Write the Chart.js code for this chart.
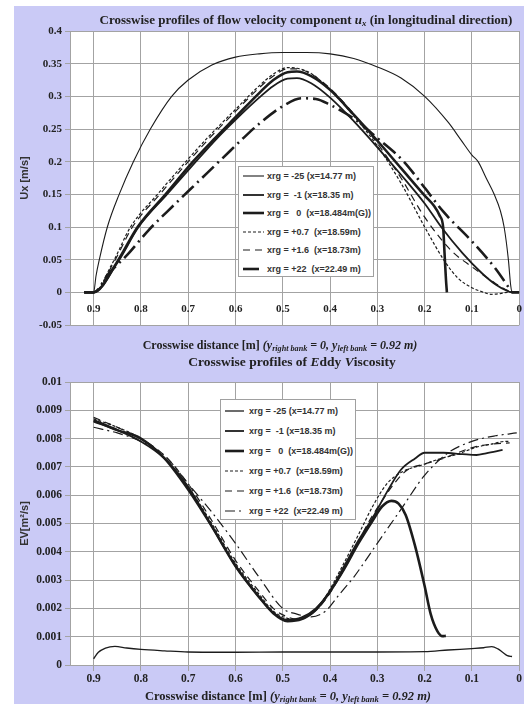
<!DOCTYPE html>
<html>
<head>
<meta charset="utf-8">
<script src="https://cdn.jsdelivr.net/npm/chart.js@4.4.1/dist/chart.umd.min.js"></script>
<style>
  body { margin:0; background:#fff; width:524px; height:704px; position:relative; overflow:hidden; }
  #panel { position:absolute; left:14px; top:6px; right:0; bottom:0; background:#cacaf6; }
  canvas { position:absolute; left:0; }
  .ttl { position:absolute; transform:translateX(-50%); font:bold 11px "Liberation Serif", serif; color:#222; white-space:nowrap; line-height:14px; }
  .ttl sub { font-size:0.68em; vertical-align:-2px; }
  .legend { position:absolute; background:#fff; border:1px solid #a0a0a0; box-sizing:border-box; font:bold 9px "Liberation Sans", Arial, sans-serif; color:#333; }
  .legend .row { position:absolute; white-space:pre; line-height:12px; }
  .legend svg { position:absolute; }
</style>
</head>
<body>
<div id="panel"></div>
<canvas id="uxChart" width="524" height="362" style="top:0"></canvas>
<canvas id="evChart" width="524" height="342" style="top:362px"></canvas>

<div class="ttl" style="left:306px;top:13px;font-size:13px">Crosswise profiles of flow velocity component <i>u</i><sub><i>x</i></sub> (in longitudinal direction)</div>
<div class="ttl" style="left:280px;top:338px;font-size:12px">Crosswise distance [m] <i>(y<sub>right bank</sub> = 0, y<sub>left bank</sub> = 0.92 m)</i></div>
<div class="ttl" style="left:292px;top:355px;font-size:13.5px">Crosswise profiles of <i>E</i>ddy <i>V</i>iscosity</div>
<div class="ttl" style="left:288px;top:689px;font-size:12.5px">Crosswise distance [m] <i>(y<sub>right bank</sub> = 0, y<sub>left bank</sub> = 0.92 m)</i></div>

<div class="legend" id="uxLegend" style="left:238px;top:166px;width:136px;height:111px"></div>
<div class="legend" id="evLegend" style="left:220px;top:399px;width:136px;height:121px"></div>

<script>
// legend labels
const labels = [
  'xrg = -25 (x=14.77 m)',
  'xrg =  -1 (x=18.35 m)',
  'xrg =   0  (x=18.484m(G))',
  'xrg = +0.7  (x=18.59m)',
  'xrg = +1.6  (x=18.73m)',
  'xrg = +22  (x=22.49 m)'
];

// Ux [m/s] versus crosswise distance [m]
const uxM25 = [[0.92,0],[0.9,0],[0.895,0.025],[0.888,0.05],[0.871,0.1],[0.846,0.15],[0.816,0.2],[0.78,0.25],[0.735,0.3],[0.7,0.325],[0.65,0.348],[0.6,0.36],[0.55,0.365],[0.5,0.367],[0.45,0.367],[0.4,0.365],[0.35,0.358],[0.3,0.345],[0.25,0.328],[0.2,0.3],[0.15,0.26],[0.123,0.233],[0.1,0.21],[0.087,0.2],[0.07,0.175],[0.053,0.15],[0.04,0.125],[0.032,0.1],[0.023,0.05],[0.018,0.01],[0.015,0],[0,0]];
const uxM1 = [[0.92,0],[0.9,0],[0.85,0.045],[0.805,0.1],[0.745,0.15],[0.69,0.195],[0.64,0.235],[0.6,0.264],[0.55,0.298],[0.52,0.316],[0.49,0.327],[0.47,0.328],[0.44,0.32],[0.4,0.298],[0.35,0.262],[0.3,0.222],[0.25,0.18],[0.2,0.136],[0.165,0.1],[0.12,0.06],[0.08,0.03],[0.05,0.012],[0.025,0.002],[0.015,0],[0,0]];
const ux0 = [[0.92,0],[0.9,0],[0.85,0.047],[0.807,0.1],[0.748,0.15],[0.69,0.2],[0.646,0.234],[0.6,0.268],[0.55,0.305],[0.52,0.325],[0.49,0.337],[0.47,0.338],[0.44,0.331],[0.4,0.31],[0.35,0.272],[0.3,0.232],[0.25,0.19],[0.2,0.148],[0.18,0.132],[0.168,0.117],[0.161,0.1],[0.158,0.06],[0.155,0.02],[0.153,0]];
const ux07 = [[0.92,0],[0.9,0],[0.86,0.045],[0.822,0.1],[0.765,0.15],[0.705,0.2],[0.66,0.236],[0.6,0.28],[0.55,0.316],[0.52,0.334],[0.49,0.344],[0.47,0.343],[0.44,0.335],[0.4,0.31],[0.35,0.27],[0.3,0.224],[0.25,0.167],[0.2,0.1],[0.159,0.049],[0.13,0.022],[0.1,0.007],[0.075,0],[0.06,-0.003],[0.04,-0.002],[0.025,0],[0,0]];
const ux16 = [[0.92,0],[0.9,0],[0.858,0.045],[0.818,0.1],[0.76,0.15],[0.7,0.2],[0.655,0.236],[0.6,0.277],[0.55,0.313],[0.52,0.331],[0.49,0.342],[0.47,0.342],[0.44,0.334],[0.4,0.312],[0.35,0.273],[0.3,0.228],[0.25,0.175],[0.2,0.115],[0.144,0.064],[0.1,0.039],[0.059,0.018],[0.025,0.003],[0.01,0],[0,0]];
const ux22 = [[0.92,0],[0.9,0],[0.868,0.029],[0.828,0.058],[0.784,0.095],[0.731,0.133],[0.678,0.17],[0.625,0.207],[0.585,0.235],[0.55,0.258],[0.5,0.285],[0.46,0.297],[0.43,0.296],[0.4,0.287],[0.35,0.266],[0.3,0.236],[0.244,0.2],[0.2,0.16],[0.16,0.123],[0.1,0.078],[0.05,0.036],[0.02,0.005],[0.015,0],[0,0]];

// EV [m2/s] versus crosswise distance [m]
const evM25 = [[0.9,0.00022],[0.89,0.00045],[0.875,0.0006],[0.855,0.00066],[0.83,0.0006],[0.8,0.00055],[0.75,0.0005],[0.7,0.00046],[0.6,0.00045],[0.5,0.00046],[0.4,0.00046],[0.3,0.00046],[0.2,0.00047],[0.15,0.00053],[0.1,0.00058],[0.075,0.00061],[0.058,0.00065],[0.045,0.00057],[0.035,0.00045],[0.025,0.00033],[0.015,0.0003]];
const evM1 = [[0.9,0.0086],[0.85,0.0083],[0.8,0.0079],[0.75,0.0073],[0.7,0.0063],[0.65,0.0049],[0.6,0.0035],[0.55,0.0024],[0.52,0.00185],[0.49,0.0016],[0.46,0.00168],[0.43,0.002],[0.4,0.0026],[0.37,0.0035],[0.34,0.0044],[0.31,0.0052],[0.28,0.0061],[0.25,0.0069],[0.22,0.0073],[0.2,0.0075],[0.16,0.0075],[0.12,0.00745],[0.09,0.00742],[0.07,0.00748],[0.035,0.0076]];
const ev0 = [[0.9,0.00865],[0.85,0.0083],[0.8,0.008],[0.75,0.0073],[0.7,0.0062],[0.65,0.0049],[0.6,0.0035],[0.55,0.0024],[0.52,0.00183],[0.49,0.00155],[0.46,0.00162],[0.43,0.00195],[0.4,0.0026],[0.37,0.0034],[0.34,0.0043],[0.31,0.0051],[0.29,0.0056],[0.27,0.0058],[0.255,0.0057],[0.24,0.0053],[0.22,0.0042],[0.2,0.0028],[0.187,0.0018],[0.173,0.0012],[0.162,0.00102],[0.155,0.00103]];
const ev07 = [[0.9,0.0087],[0.85,0.0084],[0.8,0.008],[0.75,0.0073],[0.7,0.0063],[0.65,0.005],[0.6,0.0036],[0.55,0.0025],[0.52,0.0019],[0.49,0.00165],[0.47,0.0016],[0.44,0.0018],[0.41,0.0024],[0.38,0.0033],[0.34,0.0046],[0.31,0.0056],[0.28,0.0064],[0.25,0.0068],[0.2,0.0071],[0.165,0.0073],[0.13,0.00745],[0.09,0.0077],[0.06,0.0078],[0.03,0.0079],[0.02,0.0079]];
const ev16 = [[0.9,0.00875],[0.85,0.0084],[0.8,0.008],[0.75,0.0074],[0.7,0.0064],[0.65,0.0051],[0.6,0.0037],[0.55,0.0026],[0.52,0.002],[0.49,0.0017],[0.47,0.00162],[0.44,0.0018],[0.41,0.0023],[0.38,0.0031],[0.35,0.004],[0.32,0.005],[0.29,0.0058],[0.26,0.0065],[0.236,0.0069],[0.2,0.0071],[0.16,0.0073],[0.13,0.0075],[0.095,0.0077],[0.06,0.0078],[0.02,0.00785]];
const ev22 = [[0.9,0.0084],[0.85,0.0082],[0.8,0.0079],[0.75,0.0074],[0.7,0.0064],[0.65,0.0054],[0.6,0.0043],[0.55,0.0031],[0.5,0.002],[0.47,0.0018],[0.44,0.0017],[0.41,0.0019],[0.38,0.0025],[0.35,0.0031],[0.3,0.0043],[0.25,0.0055],[0.2,0.0067],[0.15,0.0075],[0.1,0.0079],[0.05,0.0081],[0.005,0.0082]];

const LINE = '#1c1c1c';
const GRID = '#a3a3a3';

const plotBg = {
  id: 'plotBg',
  beforeDraw(chart) {
    const { ctx, chartArea: a } = chart;
    ctx.save();
    ctx.fillStyle = '#fff';
    ctx.fillRect(a.left, a.top, a.right - a.left, a.bottom - a.top);
    ctx.restore();
  }
};

const fmt = (v, d) => String(parseFloat(v.toFixed(d)));

function dataset(label, arr, width, dash) {
  return {
    label: label,
    data: arr.map(p => ({ x: p[0], y: p[1] })),
    borderColor: LINE,
    borderWidth: width,
    borderDash: dash,
    pointRadius: 0,
    fill: false,
    cubicInterpolationMode: 'monotone'
  };
}

function options(yMin, yMax, yStep, yDec, yTitle, pad, tickSize, xTickLen) {
  const tickFont = { family: 'Liberation Serif', weight: 'bold', size: tickSize };
  return {
    responsive: false,
    animation: false,
    devicePixelRatio: 1,
    layout: { padding: pad },
    plugins: { legend: { display: false }, tooltip: { enabled: false } },
    scales: {
      x: {
        type: 'linear', reverse: true, min: 0, max: 0.95,
        position: { y: 0 },
        ticks: { stepSize: 0.1, includeBounds: false, font: tickFont, color: '#222', padding: 2, maxRotation: 0,
                 callback: v => fmt(v, 1) },
        grid: { color: GRID, tickLength: xTickLen },
        border: { color: GRID }
      },
      y: {
        type: 'linear', min: yMin, max: yMax,
        ticks: { stepSize: yStep, font: tickFont, color: '#222', padding: 3,
                 callback: v => fmt(v, yDec) },
        grid: { color: GRID, tickLength: 5 },
        border: { color: GRID },
        title: { display: true, text: yTitle, color: '#333',
                 font: { family: 'Liberation Sans', weight: 'bold', size: 11 } },
        afterFit: s => { s.width = 56; }
      }
    }
  };
}

function buildLegend(el, chart, sampleW, textX, firstY, step) {
  chart.data.datasets.forEach((ds, i) => {
    const cy = firstY + i * step;
    const svg = document.createElementNS('http://www.w3.org/2000/svg', 'svg');
    svg.setAttribute('width', sampleW);
    svg.setAttribute('height', 8);
    svg.style.left = '4px';
    svg.style.top = (cy - 4) + 'px';
    const ln = document.createElementNS('http://www.w3.org/2000/svg', 'line');
    ln.setAttribute('x1', 0); ln.setAttribute('x2', sampleW);
    ln.setAttribute('y1', 4); ln.setAttribute('y2', 4);
    ln.setAttribute('stroke', LINE);
    ln.setAttribute('stroke-width', ds.borderWidth);
    if (ds.borderDash.length) ln.setAttribute('stroke-dasharray', ds.borderDash.join(' '));
    svg.appendChild(ln);
    el.appendChild(svg);
    const row = document.createElement('div');
    row.className = 'row';
    row.textContent = ds.label;
    row.style.left = textX + 'px';
    row.style.top = (cy - 6) + 'px';
    el.appendChild(row);
  });
}

const uxChart = new Chart(document.getElementById('uxChart'), {
  type: 'line',
  data: {
    datasets: [
      dataset(labels[0], uxM25, 1.1, []),
      dataset(labels[1], uxM1, 1.8, []),
      dataset(labels[2], ux0, 2.6, []),
      dataset(labels[3], ux07, 1.2, [3, 2]),
      dataset(labels[4], ux16, 1.2, [7, 5]),
      dataset(labels[5], ux22, 2.6, [16, 5, 2, 5])
    ]
  },
  options: options(-0.05, 0.4, 0.05, 2, 'Ux [m/s]', { left: 14, right: 4, top: 31, bottom: 37 }, 11, 8),
  plugins: [plotBg]
});

const evChart = new Chart(document.getElementById('evChart'), {
  type: 'line',
  data: {
    datasets: [
      dataset(labels[0], evM25, 1.3, []),
      dataset(labels[1], evM1, 1.8, []),
      dataset(labels[2], ev0, 2.6, []),
      dataset(labels[3], ev07, 1.2, [3, 2]),
      dataset(labels[4], ev16, 1.2, [7, 5]),
      dataset(labels[5], ev22, 1.2, [10, 4, 2, 4])
    ]
  },
  options: options(0, 0.01, 0.001, 3, 'EV[m\u00B2/s]', { left: 14, right: 4, top: 20, bottom: 39 }, 11.5, 5),
  plugins: [plotBg]
});

buildLegend(document.getElementById('uxLegend'), uxChart, 21, 28, 9, 18.5);
buildLegend(document.getElementById('evLegend'), evChart, 19, 28, 11, 20);
</script>
</body>
</html>
